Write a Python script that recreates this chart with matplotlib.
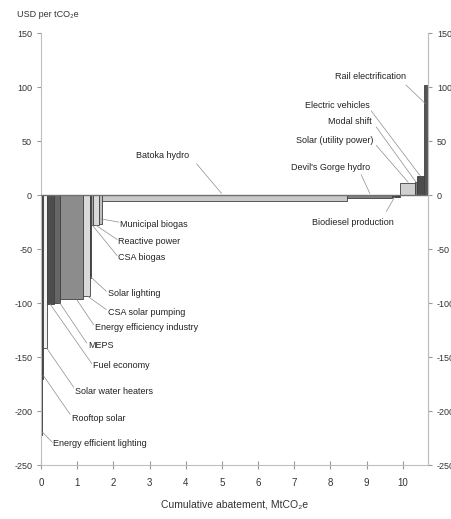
import matplotlib
matplotlib.use("Agg")
import matplotlib.pyplot as plt
import numpy as np

plt.rcParams['font.family'] = ['Liberation Sans', 'DejaVu Sans']
plt.rcParams['font.size'] = 6.5
plt.rcParams['axes.unicode_minus'] = False

# Abatement options, sorted by cost (MACC)
options = ["Energy efficient lighting", "Rooftop solar", "Solar water heaters",
           "Fuel economy", "MEPS", "Energy efficiency industry", "CSA solar pumping",
           "Solar lighting", "CSA biogas", "Reactive power", "Municipal biogas",
           "Batoka hydro", "Devil's Gorge hydro", "Biodiesel production",
           "Solar (utility power)", "Modal shift", "Electric vehicles",
           "Rail electrification"]
abatement = [0.03, 0.02, 0.125, 0.175, 0.175, 0.635, 0.19, 0.04, 0.05, 0.17, 0.07,
             6.77, 1.24, 0.23, 0.41, 0.07, 0.20, 0.07]
cost = [-222, -170, -142, -101, -100, -96, -93, -77, -28, -28, -27,
        -5, -3, -1.5, 11, 12, 18, 102]
colors = ["#222222", "#333333", "#f2f2f2", "#4d4d4d", "#666666", "#8c8c8c", "#d9d9d9",
          "#444444", "#a6a6a6", "#d9d9d9", "#bfbfbf", "#c8c8c8", "#808080", "#333333",
          "#d0d0d0", "#7f7f7f", "#4d4d4d", "#555555"]

# label text position and leader line (bar point -> label point)
label_pos = [(0.33, -230), (0.85, -207), (0.94, -182), (1.44, -158), (1.30, -139),
             (1.49, -123), (1.85, -109), (1.85, -91), (2.13, -58), (2.13, -43), (2.18, -27),
             (3.37, 37), (9.1, 26), (9.75, -25), (9.2, 51), (9.15, 68), (9.1, 83), (10.1, 110)]
label_ha = ["left"] * 11 + ["center", "right", "right", "right", "right", "right", "right"]
leader = [((0.02, -219), (0.31, -229)), ((0.06, -167), (0.80, -203)),
          ((0.16, -142), (0.90, -178)), ((0.25, -101), (1.40, -156)),
          ((0.52, -100), (1.26, -137)), ((0.99, -97), (1.45, -120)),
          ((1.30, -94), (1.80, -106)), ((1.38, -76), (1.80, -89)),
          ((1.42, -28), (2.10, -56)), ((1.52, -28), (2.10, -41)),
          ((1.66, -22), (2.15, -25)),
          ((4.99, 1.6), (4.30, 29)), ((9.09, 1.6), (8.85, 19)),
          ((9.78, -1.6), (9.55, -15)), ((10.15, 12), (9.27, 46)),
          ((10.37, 12), (9.27, 63)), ((10.48, 18), (9.13, 78)),
          ((10.62, 85), (10.09, 102))]

left = np.concatenate([[0], np.cumsum(abatement)[:-1]])

fig = plt.figure(figsize=(4.52, 5.19), dpi=100)
ax = fig.add_axes([0.091, 0.104, 0.856, 0.832])

ax.bar(left, cost, width=abatement, align='edge', color=colors,
       edgecolor="#404040", linewidth=0.6, zorder=2)
ax.axhline(0, color="#707070", linewidth=1.0, zorder=3)

for name, (tx, ty), ha, (p0, p1) in zip(options, label_pos, label_ha, leader):
    ax.text(tx, ty, name, ha=ha, va='center', color="#222222", fontsize=6.5)
    ax.plot([p0[0], p1[0]], [p0[1], p1[1]], color="#8c8c8c", linewidth=0.5, zorder=4)

ax.set_xlim(0, 10.7)
ax.set_ylim(-250, 150)
ax.set_xticks(range(0, 11))
ax.set_yticks(range(-250, 151, 50))
ax.tick_params(axis='x', direction='inout', length=6, color="#999999", pad=6,
               labelsize=7, labelcolor="#333333")
ax.tick_params(axis='y', direction='out', length=3, color="#999999",
               labelsize=6.5, labelcolor="#333333")
ax.spines['top'].set_visible(False)
for s in ['left', 'right', 'bottom']:
    ax.spines[s].set_color("#bfbfbf")

ax2 = ax.twinx()
ax2.set_ylim(-250, 150)
ax2.set_yticks(range(-250, 151, 50))
ax2.tick_params(axis='y', direction='out', length=3, color="#999999",
                labelsize=6.5, labelcolor="#333333")
for s in ['top', 'left', 'bottom']:
    ax2.spines[s].set_visible(False)
ax2.spines['right'].set_color("#bfbfbf")

fig.text(0.038, 0.972, "USD per tCO₂e", fontsize=6.5, color="#333333", va='center')
fig.text(0.52, 0.027, "Cumulative abatement, MtCO₂e", fontsize=7.5, color="#333333",
         ha='center', va='center')

fig.savefig("out.png", dpi=100)
